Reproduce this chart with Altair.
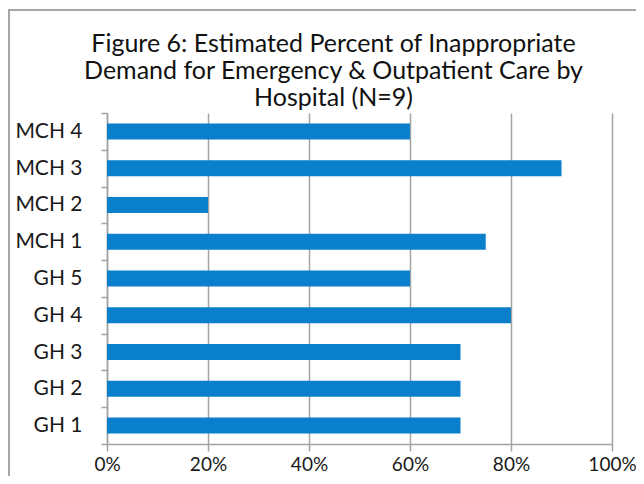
import altair as alt
import pandas as pd

hospitals = ["MCH 4", "MCH 3", "MCH 2", "MCH 1", "GH 5", "GH 4", "GH 3", "GH 2", "GH 1"]
percent = [0.60, 0.90, 0.20, 0.75, 0.60, 0.80, 0.70, 0.70, 0.70]
x_ticks = [0, 0.2, 0.4, 0.6, 0.8, 1.0]
title_lines = ["Figure 6: Estimated Percent of Inappropriate",
               "Demand for Emergency & Outpatient Care by",
               "Hospital (N=9)"]

df = pd.DataFrame({"hospital": hospitals, "percent": percent})

FONT = "Lato"
GRAY = "#a3a3a3"

bars = alt.Chart(df).mark_bar(color="#0A7FCB", height={"band": 0.435}).encode(
    x=alt.X("percent:Q",
            scale=alt.Scale(domain=[0, 1], nice=False),
            axis=alt.Axis(values=x_ticks, format=".0%", title=None,
                          grid=True, gridColor=GRAY, gridWidth=1.5,
                          domainColor=GRAY, domainWidth=1.5,
                          tickColor=GRAY, tickWidth=1.5, tickSize=7,
                          labelFlush=False,
                          labelPadding=4, labelFontSize=19, labelFont=FONT,
                          labelColor="#1a1a1a")),
    y=alt.Y("hospital:N", sort=hospitals,
            scale=alt.Scale(paddingInner=0, paddingOuter=0),
            axis=alt.Axis(title=None, tickBand="extent",
                          domainColor=GRAY, domainWidth=1.5,
                          tickColor=GRAY, tickWidth=1.5, tickSize=6,
                          labelPadding=19, labelFontSize=21, labelFont=FONT,
                          labelColor="#1a1a1a")),
)

frame = alt.Chart(df).mark_rect(fill=None, stroke="#a6a6a6", strokeWidth=2, clip=False).encode(
    x=alt.value(-98), x2=alt.value(560), y=alt.value(-103), y2=alt.value(400)
)

chart = alt.layer(frame, bars).properties(
    width=505, height=331,
    padding={"left": 99, "top": 105, "right": 24, "bottom": 32},
    autosize=alt.AutoSizeParams(type="none"),
    title=alt.TitleParams(title_lines, anchor="middle", dx=-26, fontSize=25,
                          font=FONT, fontWeight="normal", lineHeight=27,
                          offset=-102, color="#111111"),
).configure_view(stroke=None)

chart.save("out.html", embed_options={"renderer": "svg", "actions": False})
